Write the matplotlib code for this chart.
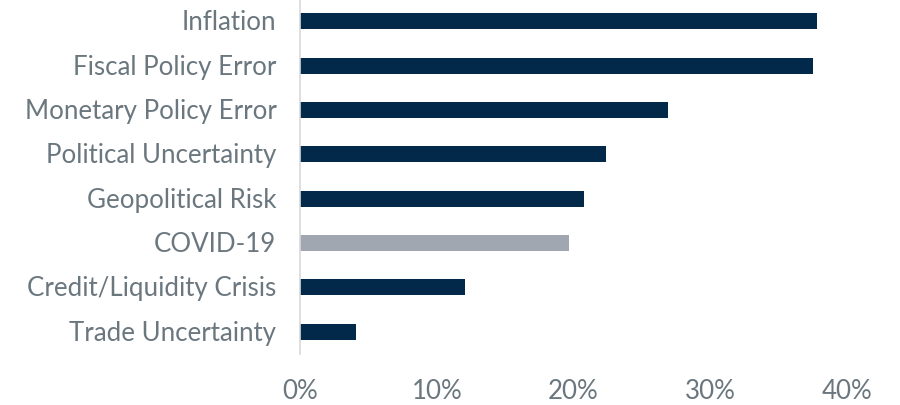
import matplotlib
matplotlib.use("Agg")
import matplotlib.pyplot as plt
from matplotlib.ticker import FuncFormatter
from matplotlib.transforms import ScaledTranslation

categories = ["Inflation", "Fiscal Policy Error", "Monetary Policy Error",
              "Political Uncertainty", "Geopolitical Risk", "COVID-19",
              "Credit/Liquidity Crisis", "Trade Uncertainty"]
values = [37.8, 37.5, 26.9, 22.4, 20.8, 19.7, 12.1, 4.1]
highlight = ["COVID-19"]
x_ticks = [0, 10, 20, 30, 40]

navy = "#03294a"
grey_bar = "#a0a7b0"
text_col = "#6b777f"

plt.rcParams["font.family"] = ["Lato", "DejaVu Sans"]

fig = plt.figure(figsize=(9, 4.06), dpi=100)
ax = fig.add_axes([300 / 900, 1 - 355 / 406, (847 - 300) / 900, 355 / 406])

ypos = list(range(len(categories)))
colors = [grey_bar if c in highlight else navy for c in categories]
ax.barh(ypos, values, height=0.36, color=colors, edgecolor="none")

ax.set_ylim(len(categories) - 0.5, -0.5)
ax.set_xlim(0, 40)
ax.set_yticks(ypos)
ax.set_yticklabels(categories)
ax.set_xticks(x_ticks)
ax.xaxis.set_major_formatter(FuncFormatter(lambda v, _: f"{v:.0f}%"))

for s in ["top", "right", "bottom"]:
    ax.spines[s].set_visible(False)
ax.spines["left"].set_color("#d9d9d9")
ax.spines["left"].set_linewidth(1.2)

ax.tick_params(axis="y", length=0, pad=17, labelsize=18.6, labelcolor=text_col)
ax.tick_params(axis="x", length=0, pad=17, labelsize=18.6, labelcolor=text_col)

# nudge category labels up slightly
shift = ScaledTranslation(0, 2 / 100, fig.dpi_scale_trans)
for lbl in ax.get_yticklabels():
    lbl.set_transform(lbl.get_transform() + shift)

fig.savefig("out.png", dpi=100)
